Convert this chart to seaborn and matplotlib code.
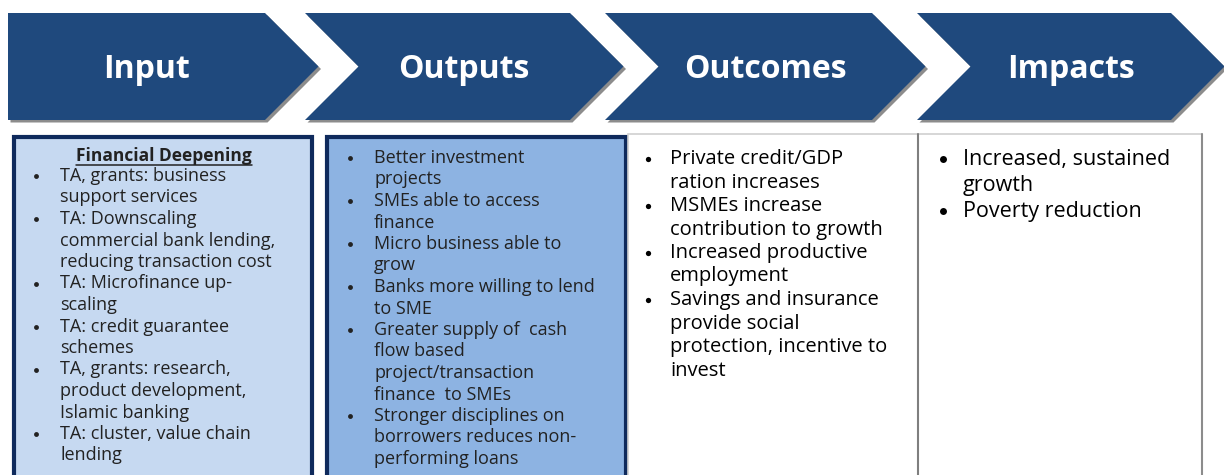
import matplotlib
matplotlib.use("Agg")
import matplotlib.pyplot as plt
from matplotlib.patches import Polygon, Rectangle
import seaborn as sns

# stages of the results chain
stages = ["Input", "Outputs", "Outcomes", "Impacts"]

input_title = "Financial Deepening"
input_items = [
    "TA, grants: business\nsupport services",
    "TA: Downscaling\ncommercial bank lending,\nreducing transaction cost",
    "TA: Microfinance up-\nscaling",
    "TA: credit guarantee\nschemes",
    "TA, grants: research,\nproduct development,\nIslamic banking",
    "TA: cluster, value chain\nlending",
]
output_items = [
    "Better investment\nprojects",
    "SMEs able to access\nfinance",
    "Micro business able to\ngrow",
    "Banks more willing to lend\nto SME",
    "Greater supply of  cash\nflow based\nproject/transaction\nfinance  to SMEs",
    "Stronger disciplines on\nborrowers reduces non-\nperforming loans",
]
outcome_items = [
    "Private credit/GDP\nration increases",
    "MSMEs increase\ncontribution to growth",
    "Increased productive\nemployment",
    "Savings and insurance\nprovide social\nprotection, incentive to\ninvest",
]
impact_items = [
    "Increased, sustained\ngrowth",
    "Poverty reduction",
]

sns.set_style("white")
plt.rcParams["font.family"] = ["Open Sans", "DejaVu Sans"]

W, H = 1224, 475
fig = plt.figure(figsize=(W / 100, H / 100), dpi=100)
ax = fig.add_axes([0, 0, 1, 1])
ax.set_xlim(0, W)
ax.set_ylim(H, 0)
ax.axis("off")

navy = "#1f497d"
top, bot = 13, 120
mid = (top + bot) / 2
d = mid - top
chev_x = [(8, 265), (305, 570), (605, 872), (917, 1171)]

for i, (name, (x0, xr)) in enumerate(zip(stages, chev_x)):
    pts = [(x0, top), (xr, top), (xr + d, mid), (xr, bot), (x0, bot)]
    if i > 0:
        pts.append((x0 + d, mid))
    shadow = Polygon([(x + 2.5, y + 2.5) for x, y in pts], closed=True,
                     facecolor="#8c8c8c", edgecolor="none", zorder=1)
    ax.add_patch(shadow)
    ax.add_patch(Polygon(pts, closed=True, facecolor=navy, edgecolor="none", zorder=2))
    left = x0 + d if i > 0 else x0 + 20
    ax.text((left + xr) / 2, mid + 2.5, name, color="white", fontsize=23, fontweight="bold",
            ha="center", va="center", zorder=3)

# boxes under the chevrons
boxes = [
    (14, 137, 298, "#c6d9f1", "#0f2a5c", 3),
    (327, 137, 299, "#8db3e2", "#0f2a5c", 3),
    (628, 134, 290, "white", "#d0d0d0", 1.2),
    (918, 134, 284, "white", "#d0d0d0", 1.2),
]
for x, y, w, fc, ec, lw in boxes:
    ax.add_patch(Rectangle((x, y), w, H - y + 10, facecolor=fc, edgecolor=ec,
                           linewidth=lw, zorder=1))
# darker dividers at the right of the white boxes
ax.plot([918, 918], [134, H], color="#7f7f7f", lw=1.5, zorder=2)
ax.plot([1202, 1202], [134, H], color="#8c8c8c", lw=1.5, zorder=2)


def bullets(items, xb, xt, y0, step, size, color, dot):
    y = y0
    for item in items:
        ax.plot(xb, y, "o", ms=dot, color=color, mec="none", zorder=3)
        for line in item.split("\n"):
            ax.text(xt, y, line, fontsize=size, color=color, ha="left", va="center", zorder=3)
            y += step


txt = "#222222"
t = ax.text(164, 156, input_title, fontsize=12.5, fontweight="bold", color=txt,
            ha="center", va="center", zorder=3)
fig.canvas.draw()
bb = t.get_window_extent().transformed(ax.transData.inverted())
ax.plot([bb.x0, bb.x1], [165, 165], color=txt, lw=1.1, zorder=3)

bullets(input_items, 36, 60, 176, 21.5, 13, txt, 3.5)
bullets(output_items, 350, 374, 158, 21.5, 13, txt, 3.5)
bullets(outcome_items, 648, 670, 159, 23.5, 14.5, "black", 3.8)
bullets(impact_items, 943, 963, 159, 26, 15.5, "black", 5)

fig.savefig("out.png", dpi=100)
